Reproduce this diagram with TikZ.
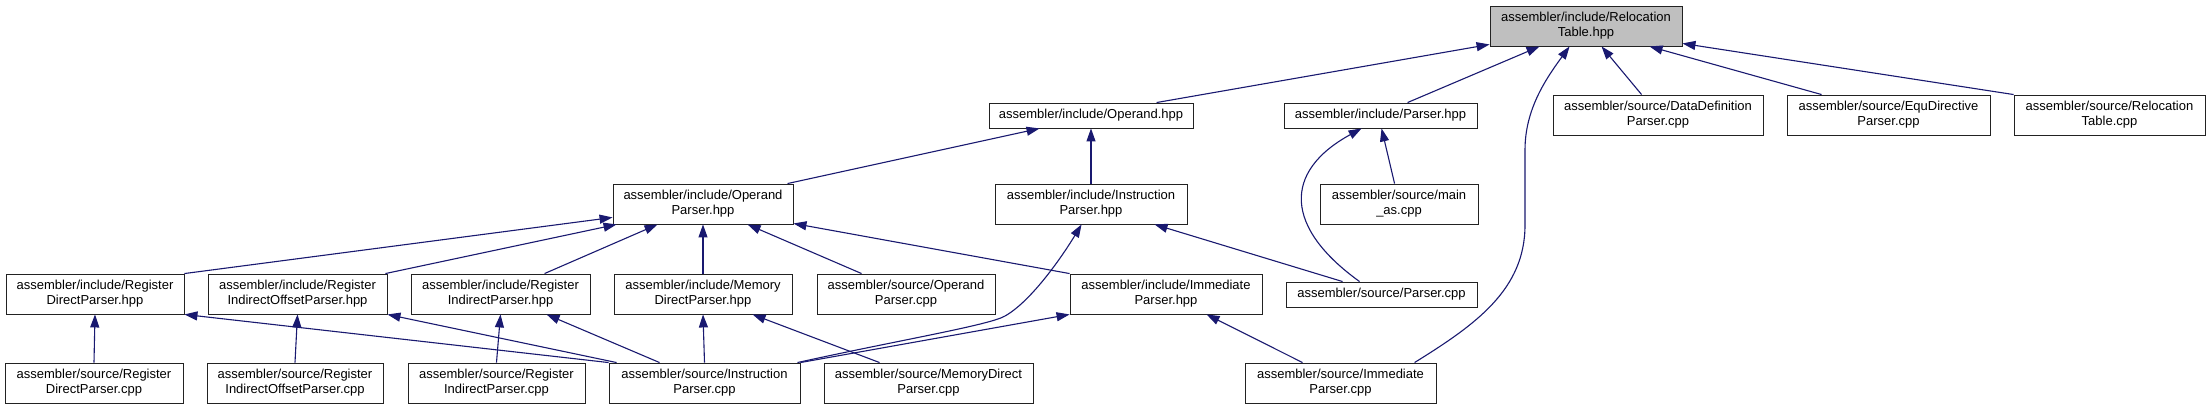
\documentclass[tikz,border=0pt]{standalone}
\usepackage{fontspec}
\setmainfont{Liberation Sans}
\usetikzlibrary{arrows.meta}
\definecolor{edgecol}{HTML}{191970}
\definecolor{rootfill}{HTML}{BFBFBF}
\definecolor{boxline}{HTML}{222222}
\tikzset{
  box/.style={draw=boxline, fill=white, line width=0.9pt, inner sep=0pt, align=center,
    font=\fontsize{13}{15}\selectfont, rectangle},
  rootbox/.style={fill=rootfill},
  dep/.style={draw=edgecol, line width=1.1pt, -{Triangle[length=13pt,width=9pt]}},
}
\newcommand\nd[7][]{\node[box,#1,minimum width={(#4-#2)*1pt},minimum height={(#5-#3)*1pt}] (#6) at ({(#2+#4)/2},{(#3+#5)/2}) {#7};}
\begin{document}
\begin{tikzpicture}[x=1pt,y=-1pt]
\useasboundingbox[fill=white] (0,0) rectangle (2211,409);
% rank 0
\nd[rootbox]{1490}{6}{1682}{46}{rt}{assembler/include/Relocation\\Table.hpp}
% rank 1
\nd{989}{103}{1193}{128}{op}{assembler/include/Operand.hpp}
\nd{1284}{103}{1477}{128}{ph}{assembler/include/Parser.hpp}
\nd{1553}{95}{1763}{135}{ddp}{assembler/source/DataDefinition\\Parser.cpp}
\nd{1787}{95}{1990}{135}{edp}{assembler/source/EquDirective\\Parser.cpp}
\nd{2014}{95}{2205}{135}{rtc}{assembler/source/Relocation\\Table.cpp}
% rank 2
\nd{613}{184}{793}{224}{oph}{assembler/include/Operand\\Parser.hpp}
\nd{995}{184}{1187}{224}{iph}{assembler/include/Instruction\\Parser.hpp}
\nd{1320}{184}{1478}{224}{mas}{assembler/source/main\\\_as.cpp}
% rank 3
\nd{6}{274}{184}{314}{rdph}{assembler/include/Register\\DirectParser.hpp}
\nd{208}{274}{387}{314}{rioph}{assembler/include/Register\\IndirectOffsetParser.hpp}
\nd{411}{274}{590}{314}{riph}{assembler/include/Register\\IndirectParser.hpp}
\nd{614}{274}{792}{314}{mdph}{assembler/include/Memory\\DirectParser.hpp}
\nd{817}{274}{995}{314}{opc}{assembler/source/Operand\\Parser.cpp}
\nd{1070}{274}{1262}{314}{imph}{assembler/include/Immediate\\Parser.hpp}
\nd{1286}{282}{1477}{307}{pc}{assembler/source/Parser.cpp}
% rank 4
\nd{5}{363}{183}{403}{rdpc}{assembler/source/Register\\DirectParser.cpp}
\nd{207}{363}{383}{403}{riopc}{assembler/source/Register\\IndirectOffsetParser.cpp}
\nd{408}{363}{585}{403}{ripc}{assembler/source/Register\\IndirectParser.cpp}
\nd{609}{363}{800}{403}{ipc}{assembler/source/Instruction\\Parser.cpp}
\nd{824}{363}{1033}{403}{mdpc}{assembler/source/MemoryDirect\\Parser.cpp}
\nd{1245}{363}{1436}{403}{impc}{assembler/source/Immediate\\Parser.cpp}
% edges to RelocationTable.hpp
\draw[dep] ([xshift=168pt]op.north west) -- ([yshift=2pt]rt.south west);
\draw[dep] ([xshift=124pt]ph.north west) -- ([xshift=50pt]rt.south west);
\draw[dep] ([xshift=170pt]impc.north west) .. controls (1475,325) and (1525,290) .. (1525,225) -- (1525,150) .. controls (1525,110) and (1545,80) .. ([xshift=80pt]rt.south west);
\draw[dep] ([xshift=89pt]ddp.north west) -- ([xshift=112pt]rt.south west);
\draw[dep] ([xshift=35pt]edp.north west) -- ([xshift=160pt]rt.south west);
\draw[dep] (rtc.north west) -- ([yshift=3pt]rt.south east);
% edges to Operand.hpp
\draw[dep] ([xshift=175pt]oph.north west) -- ([xshift=51pt]op.south west);
\draw[dep] (iph.north) -- (op.south);
% edges to Parser.hpp
\draw[dep] ([xshift=74pt]pc.north west) .. controls (1285,228) and (1282,172) .. ([xshift=78pt]ph.south west);
\draw[dep] ([xshift=75pt]mas.north west) -- ([xshift=98pt]ph.south west);
% edges to InstructionParser.hpp
\draw[dep] ([xshift=57pt]pc.north west) -- ([xshift=160pt]iph.south west);
\draw[dep] ([xshift=-3pt]ipc.north east) .. controls (900,340) and (990,325) .. (1005,316) .. controls (1030,302) and (1060,260) .. ([xshift=87pt]iph.south west);
% edges to OperandParser.hpp
\draw[dep] (rdph.north east) -- ([yshift=7pt]oph.south west);
\draw[dep] ([xshift=-2pt]rioph.north east) -- ([xshift=4pt]oph.south west);
\draw[dep] ([xshift=134pt]riph.north west) -- ([xshift=45pt]oph.south west);
\draw[dep] (mdph.north) -- (oph.south);
\draw[dep] ([xshift=45pt]opc.north west) -- ([xshift=135pt]oph.south west);
\draw[dep] (imph.north west) -- ([yshift=1pt]oph.south east);
% rank 4 to rank 3
\draw[dep] (rdpc.north) -- (rdph.south);
\draw[dep] (riopc.north) -- (rioph.south);
\draw[dep] (ripc.north) -- (riph.south);
\draw[dep] (ipc.north west) -- (rdph.south east);
\draw[dep] ([xshift=8pt]ipc.north west) -- (rioph.south east);
\draw[dep] ([xshift=51pt]ipc.north west) -- ([xshift=136pt]riph.south west);
\draw[dep] (ipc.north) -- (mdph.south);
\draw[dep] (ipc.north east) -- (imph.south west);
\draw[dep] ([xshift=56pt]mdpc.north west) -- ([xshift=139pt]mdph.south west);
\draw[dep] ([xshift=58pt]impc.north west) -- ([xshift=137pt]imph.south west);
\end{tikzpicture}
\end{document}
